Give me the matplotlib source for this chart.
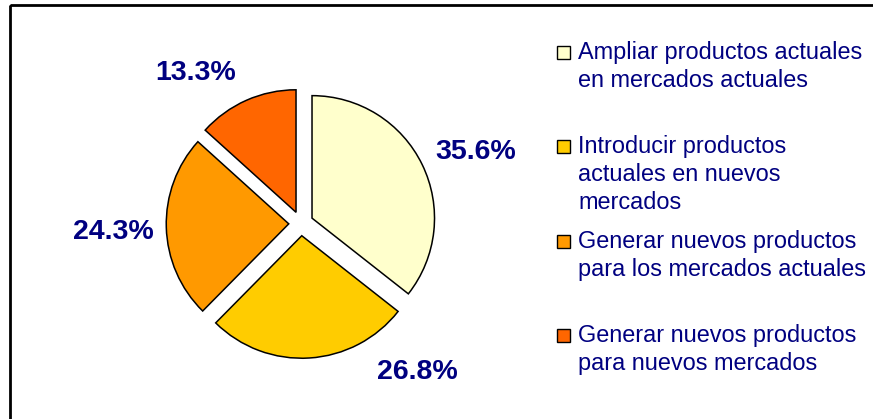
import matplotlib
matplotlib.use('Agg')
import matplotlib.pyplot as plt
from matplotlib.patches import Rectangle

# data
labels = ['Ampliar productos actuales\nen mercados actuales',
          'Introducir productos\nactuales en nuevos\nmercados',
          'Generar nuevos productos\npara los mercados actuales',
          'Generar nuevos productos\npara nuevos mercados']
values = [35.6, 26.8, 24.3, 13.3]
colors = ['#FFFFCC', '#FFCC00', '#FF9900', '#FF6600']

# where Excel put the percentage labels (pie radius units, from centre)
label_pos = [(1.43, 0.58), (0.95, -1.21), (-1.535, -0.07), (-0.86, 1.23)]

W, H = 873, 419
navy = '#000080'
fig = plt.figure(figsize=(W / 100, H / 100), dpi=100)
fig.patch.set_facecolor('white')

# pie: centre at (301, 223.5) px, radius 122.5 px
R = 122.5
cx, cy = 301, H - 223.5
half = 1.6 * R
ax = fig.add_axes([(cx - half) / W, (cy - half) / H, 2 * half / W, 2 * half / H])
ax.pie(values, colors=colors, startangle=90, counterclock=False,
       explode=[0.1] * len(values),
       wedgeprops=dict(edgecolor='black', linewidth=1.1))
ax.set_xlim(-1.6, 1.6)
ax.set_ylim(-1.6, 1.6)
ax.axis('off')
for v, (x, y) in zip(values, label_pos):
    ax.text(x, y, '%.1f%%' % v, ha='center', va='center', color=navy,
            fontsize=20.5, fontweight='bold', family='Liberation Sans')

# overlay in pixel coordinates for the frame and legend
ov = fig.add_axes([0, 0, 1, 1], facecolor='none')
ov.set_xlim(0, W)
ov.set_ylim(H, 0)
ov.axis('off')
ov.add_patch(Rectangle((10, 5), W + 20, H + 20, fill=False,
                       edgecolor='black', linewidth=2))

base0, step, lead = 59, 94.3, 28
for i, (lab, c) in enumerate(zip(labels, colors)):
    b = base0 + step * i
    ov.add_patch(Rectangle((557, b - 13), 13, 13, facecolor=c,
                           edgecolor='black', linewidth=1))
    for j, line in enumerate(lab.split('\n')):
        ov.text(578, b + lead * j, line, ha='left', va='baseline',
                color=navy, fontsize=16.9, family='Liberation Sans')

fig.savefig('out.png', dpi=100)
